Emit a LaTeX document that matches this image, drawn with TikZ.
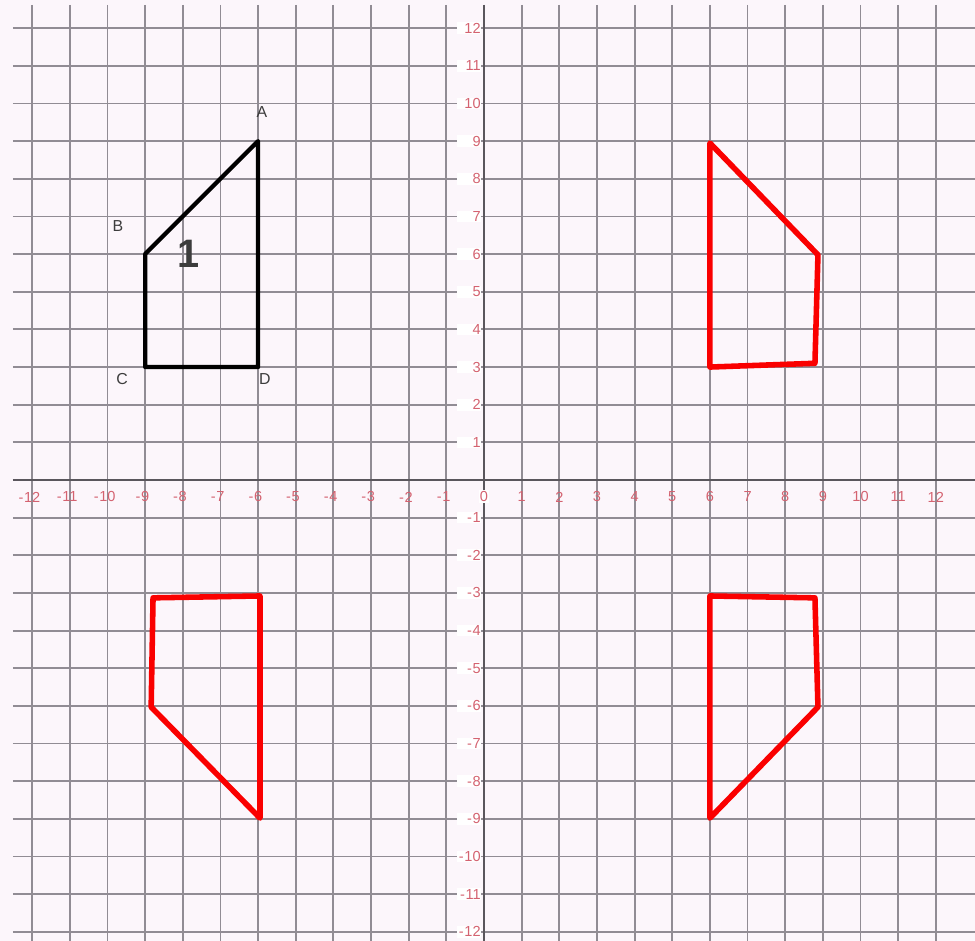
\documentclass[tikz,border=0pt]{standalone}
\usepackage{fontspec}
\setmainfont{Liberation Sans}
\definecolor{bg}{RGB}{252,246,251}
\definecolor{gridc}{RGB}{145,140,148}
\definecolor{axisc}{RGB}{90,86,92}
\definecolor{labc}{RGB}{212,98,112}
\definecolor{shapered}{RGB}{250,0,0}
\definecolor{letterc}{RGB}{60,60,60}
\begin{document}
\begin{tikzpicture}[x=1cm,y=1cm,
  gridline/.style={gridc, line width=1.4pt},
  axisline/.style={axisc, line width=1.5pt},
  xlab/.style={text=labc, inner sep=1pt, font=\fontsize{11}{12}\selectfont},
  ylab/.style={text=labc, anchor=east, fill=white, inner sep=0.6pt, text width=0.62cm, align=right, font=\fontsize{11}{12}\selectfont},
  origshape/.style={draw=black, line width=3.2pt, line join=round},
  imgshape/.style={draw=shapered, line width=4.2pt, line join=round},
  vlabel/.style={text=letterc, inner sep=0pt, font=\fontsize{12}{14}\selectfont}
]
\fill[bg] (-12.855,-12.244) rectangle (13.041,12.749);
\useasboundingbox (-12.855,-12.244) rectangle (13.041,12.749);
% grid
\foreach \x in {-12,...,12} \draw[gridline] (\x,12.62) -- (\x,-12.244);
\foreach \y in {-12,...,12} \draw[gridline] (-12.51,\y) -- (13.041,\y);
% axes
\draw[axisline] (-12.51,0) -- (13.041,0);
\draw[axisline] (0,12.62) -- (0,-12.244);
% axis labels
\foreach \v in {1,...,12} {
  \node[xlab] (xp\v) at (\v,-0.45) {\v};
  \node[xlab] (xn\v) at (-\v,-0.45) {\llap{-\kern0.5pt}\v};
  \node[ylab] (yp\v) at (-0.06,\v) {\v};
  \node[ylab] (yn\v) at (-0.06,-\v) {-\kern0.5pt\v};
}
\node[xlab, fill=white] (x0) at (0,-0.45) {0};
% original figure 1
\coordinate (A) at (-6,9);
\coordinate (B) at (-9,6);
\coordinate (C) at (-9,3);
\coordinate (D) at (-6,3);
\draw[origshape] (A) -- (B) -- (C) -- (D) -- cycle;
\node[vlabel] (lA) at (-5.9,9.77) {A};
\node[vlabel] (lB) at (-9.72,6.75) {B};
\node[vlabel] (lC) at (-9.61,2.68) {C};
\node[vlabel] (lD) at (-5.82,2.68) {D};
\node[text=letterc, inner sep=0pt, font=\fontsize{30}{32}\selectfont\bfseries] (one) at (-7.86,6.0) {1};
% image in quadrant I
\coordinate (P1) at (6,8.95);
\coordinate (P2) at (8.87,5.98);
\coordinate (P3) at (8.79,3.1);
\coordinate (P4) at (6,3.0);
\draw[imgshape] (P1) -- (P2) -- (P3) -- (P4) -- cycle;
% image in quadrant III
\coordinate (Q1) at (-8.79,-3.13);
\coordinate (Q2) at (-5.95,-3.08);
\coordinate (Q3) at (-5.95,-8.98);
\coordinate (Q4) at (-8.84,-6.03);
\draw[imgshape] (Q1) -- (Q2) -- (Q3) -- (Q4) -- cycle;
% image in quadrant IV
\coordinate (R1) at (6,-3.08);
\coordinate (R2) at (8.79,-3.13);
\coordinate (R3) at (8.87,-6.03);
\coordinate (R4) at (6,-8.98);
\draw[imgshape] (R1) -- (R2) -- (R3) -- (R4) -- cycle;
\end{tikzpicture}
\end{document}
